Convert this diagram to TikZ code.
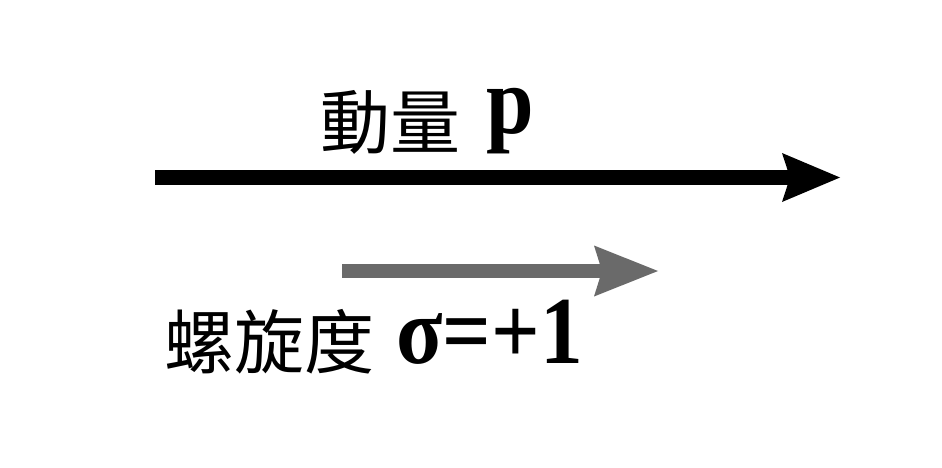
\documentclass[tikz,border=0pt]{standalone}
\usepackage{fontspec}
\usetikzlibrary{arrows.meta}
\newfontfamily\cjkfont{Noto Sans CJK TC}
\newfontfamily\bserif[FakeStretch=0.89]{Liberation Serif}
\definecolor{spingray}{HTML}{6A6A6A}
\tikzset{
  cjklabel/.style={inner sep=0pt, anchor=base west, font=\cjkfont\fontsize{70}{70}\selectfont},
  symlabel/.style={inner sep=0pt, anchor=base west, font=\bserif\bfseries\fontsize{96}{96}\selectfont},
  momarrow/.style={line width=15pt, black, -{Stealth[length=58pt, width=49pt, inset=8pt, line width=0pt]}},
  spinarrow/.style={line width=14pt, spingray, -{Stealth[length=64pt, width=51pt, inset=8pt, line width=0pt]}}
}
\begin{document}
\begin{tikzpicture}[x=1pt,y=1pt]
\useasboundingbox[fill=white] (0,0) rectangle (942,467);
% momentum arrow
\coordinate (pstart) at (155,289.5);
\coordinate (pend) at (840,289.5);
\draw[momarrow] (pstart) -- (pend);
% helicity arrow
\coordinate (sstart) at (342,196);
\coordinate (send) at (658,196);
\draw[spinarrow] (sstart) -- (send);
% labels
\node[cjklabel] (momtext) at (320,319) {動量};
\node[symlabel] (ptext) at (486,334) {p};
\node[cjklabel] (heltext) at (164,99) {螺旋度};
\node[symlabel] (sigtext) at (396,104) {σ=+1};
\end{tikzpicture}
\end{document}
